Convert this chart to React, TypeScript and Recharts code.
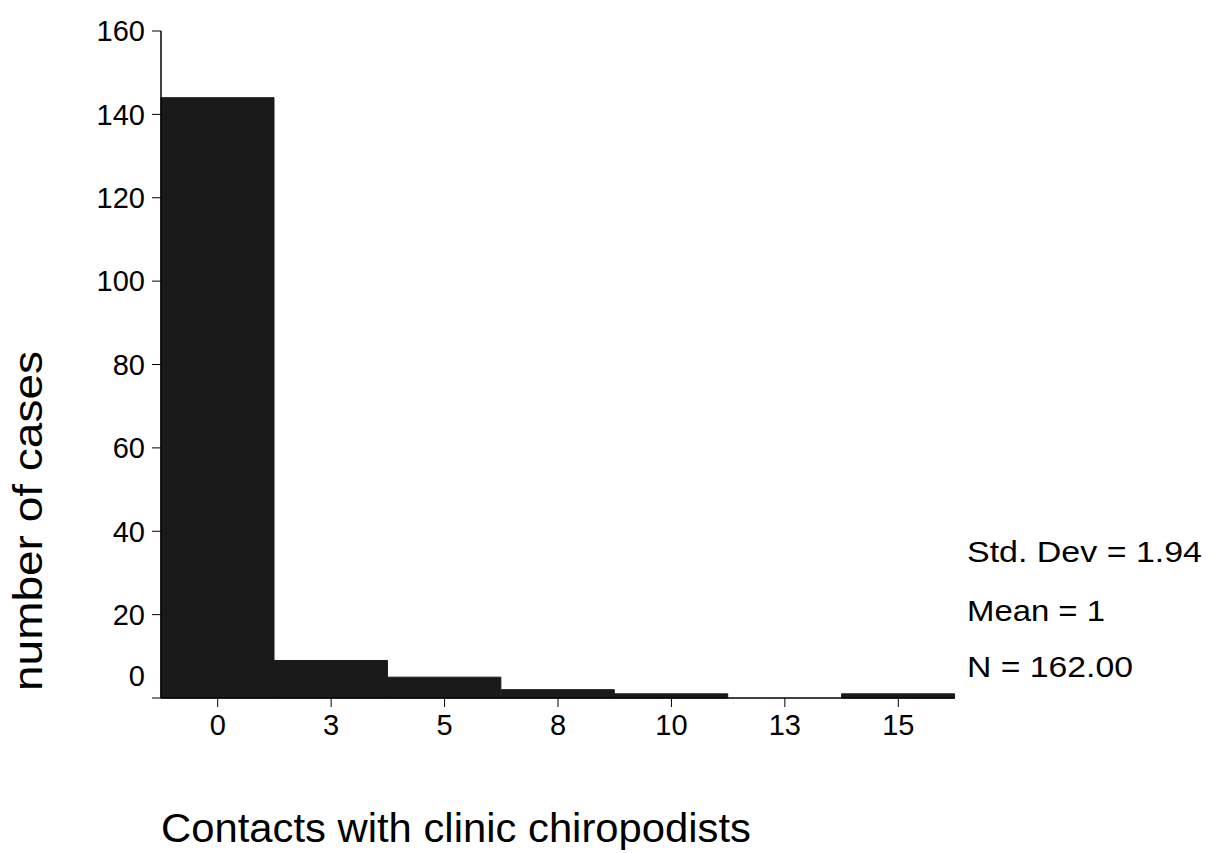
import React from 'react';
import { BarChart, Bar, XAxis, YAxis } from 'recharts';

const binLabels = ['0', '3', '5', '8', '10', '13', '15'];
const caseCounts = [144, 9, 5, 2, 1, 0, 1];
const yTicks = [0, 20, 40, 60, 80, 100, 120, 140, 160];
const statLines = ['Std. Dev = 1.94', 'Mean = 1', 'N = 162.00'];
const xTitle = 'Contacts with clinic chiropodists';
const yTitle = 'number of cases';

const data = binLabels.map((label, i) => ({ label, count: caseCounts[i] }));

const FONT = '"Liberation Sans", Arial, Helvetica, sans-serif';

const YTick = (props: any) => {
  const { x, y, payload } = props;
  const shift = payload.value === 0 ? -22 : 0;
  return (
    <text x={x} y={y + shift} dy="0.355em" textAnchor="end" fontSize={29} fill="#000" fontFamily={FONT}>
      {payload.value}
    </text>
  );
};

const statBaselines = [562, 621, 677];
const statWidths = [235, 138, 166];

export default function App() {
  return (
    <div style={{ position: 'absolute', left: 0, top: 0, width: 1212, height: 853, background: '#fff' }}>
      <BarChart
        width={1212}
        height={853}
        data={data}
        margin={{ top: 31, right: 257, bottom: 115, left: 0 }}
        barCategoryGap={0}
        barGap={0}
      >
        <XAxis
          dataKey="label"
          xAxisId="bottom"
          height={40}
          tickSize={9}
          tickMargin={7}
          axisLine={{ stroke: '#000', strokeWidth: 1.5 }}
          tickLine={{ stroke: '#000', strokeWidth: 1 }}
          tick={{ fontSize: 29, fill: '#000', fontFamily: FONT }}
          interval={0}
        />
        <XAxis
          dataKey="label"
          xAxisId="top"
          orientation="top"
          height={0}
          tick={false}
          tickLine={false}
          axisLine={{ stroke: '#444', strokeWidth: 1 }}
        />
        <YAxis
          yAxisId="left"
          width={161}
          domain={[0, 160]}
          ticks={yTicks}
          interval={0}
          tickSize={9}
          tickMargin={7}
          axisLine={{ stroke: '#000', strokeWidth: 1.5 }}
          tickLine={{ stroke: '#000', strokeWidth: 1 }}
          tick={<YTick />}
        />
        <YAxis
          yAxisId="right"
          orientation="right"
          width={0}
          domain={[0, 160]}
          tick={false}
          tickLine={false}
          axisLine={{ stroke: '#444', strokeWidth: 1 }}
        />
        <Bar
          dataKey="count"
          xAxisId="bottom"
          yAxisId="left"
          fill="#1a1a1a"
          stroke="#1a1a1a"
          strokeWidth={1}
          isAnimationActive={false}
        />
      </BarChart>
      <svg
        width={1212}
        height={853}
        style={{ position: 'absolute', left: 0, top: 0, pointerEvents: 'none' }}
      >
        <text
          x={42}
          y={521}
          transform="rotate(-90 42 521)"
          textAnchor="middle"
          fontSize={41}
          fontFamily={FONT}
          fill="#000"
          textLength={340}
          lengthAdjust="spacingAndGlyphs"
        >
          {yTitle}
        </text>
        <text
          x={161}
          y={842}
          fontSize={41}
          fontFamily={FONT}
          fill="#000"
          textLength={590}
          lengthAdjust="spacingAndGlyphs"
        >
          {xTitle}
        </text>
        {statLines.map((s, i) => (
          <text
            key={s}
            x={967}
            y={statBaselines[i]}
            fontSize={29}
            fontFamily={FONT}
            fill="#000"
            textLength={statWidths[i]}
            lengthAdjust="spacingAndGlyphs"
          >
            {s}
          </text>
        ))}
      </svg>
    </div>
  );
}
